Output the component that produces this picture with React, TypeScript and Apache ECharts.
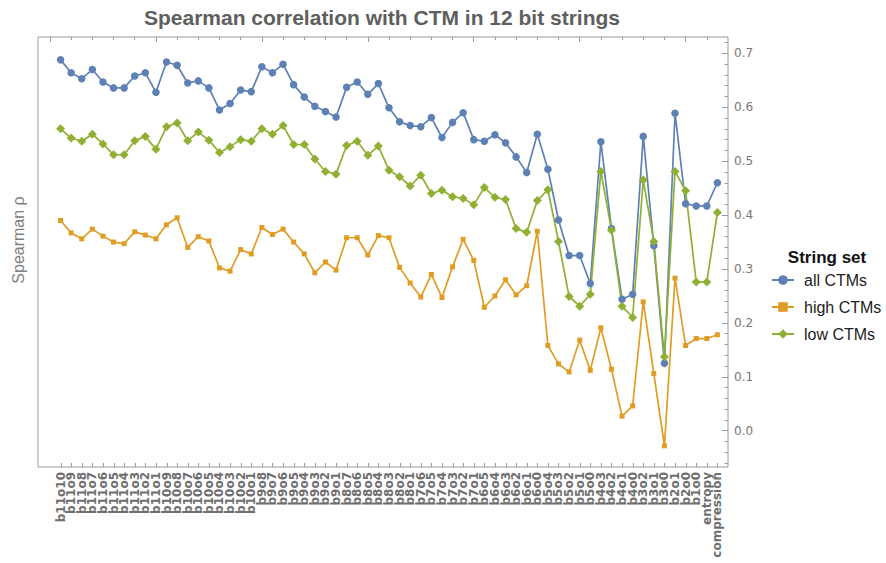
import React, { useEffect, useRef } from "react";
import * as echarts from "echarts";

const categories = [
  "b11o10", "b11o9", "b11o8", "b11o7", "b11o6", "b11o5", "b11o4", "b11o3", "b11o2", "b11o1",
  "b10o9", "b10o8", "b10o7", "b10o6", "b10o5", "b10o4", "b10o3", "b10o2", "b10o1",
  "b9o8", "b9o7", "b9o6", "b9o5", "b9o4", "b9o3", "b9o2", "b9o1",
  "b8o7", "b8o6", "b8o5", "b8o4", "b8o3", "b8o2", "b8o1",
  "b7o6", "b7o5", "b7o4", "b7o3", "b7o2", "b7o1",
  "b6o5", "b6o4", "b6o3", "b6o2", "b6o1", "b6o0",
  "b5o4", "b5o3", "b5o2", "b5o1", "b5o0",
  "b4o3", "b4o2", "b4o1", "b4o0",
  "b3o2", "b3o1", "b3o0",
  "b2o1", "b2o0",
  "b1o0",
  "entropy", "compression",
];

const allCTMs = [
  0.688, 0.664, 0.653, 0.670, 0.647, 0.636, 0.636, 0.658, 0.664, 0.628,
  0.684, 0.678, 0.645, 0.649, 0.636, 0.595, 0.607, 0.632, 0.629,
  0.675, 0.664, 0.680, 0.642, 0.619, 0.602, 0.592, 0.582,
  0.637, 0.647, 0.624, 0.644, 0.599, 0.573, 0.566,
  0.564, 0.581, 0.544, 0.572, 0.590, 0.540,
  0.537, 0.549, 0.534, 0.508, 0.479, 0.550,
  0.485, 0.391, 0.325, 0.325, 0.273,
  0.536, 0.375, 0.244, 0.253,
  0.546, 0.343, 0.125,
  0.589, 0.421,
  0.417,
  0.417, 0.460,
];

const highCTMs = [
  0.390, 0.367, 0.356, 0.374, 0.361, 0.350, 0.347, 0.369, 0.363, 0.356,
  0.382, 0.395, 0.340, 0.360, 0.352, 0.302, 0.296, 0.336, 0.328,
  0.377, 0.364, 0.374, 0.350, 0.328, 0.293, 0.313, 0.298,
  0.358, 0.358, 0.326, 0.362, 0.358, 0.303, 0.274,
  0.248, 0.290, 0.247, 0.304, 0.355, 0.316,
  0.229, 0.250, 0.280, 0.252, 0.269, 0.370,
  0.158, 0.124, 0.109, 0.168, 0.112,
  0.191, 0.114, 0.027, 0.046,
  0.239, 0.106, -0.028,
  0.283, 0.158,
  0.171,
  0.171, 0.178,
];

const lowCTMs = [
  0.560, 0.543, 0.537, 0.550, 0.532, 0.512, 0.512, 0.538, 0.546, 0.522,
  0.564, 0.571, 0.538, 0.554, 0.539, 0.516, 0.527, 0.540, 0.537,
  0.560, 0.550, 0.566, 0.531, 0.531, 0.504, 0.481, 0.476,
  0.529, 0.537, 0.511, 0.528, 0.483, 0.471, 0.454,
  0.474, 0.440, 0.446, 0.434, 0.431, 0.419,
  0.451, 0.433, 0.429, 0.375, 0.368, 0.427,
  0.447, 0.351, 0.249, 0.231, 0.253,
  0.481, 0.372, 0.231, 0.210,
  0.465, 0.351, 0.137,
  0.481, 0.445,
  0.276,
  0.276, 0.405,
];

const yTickValues = [0, 0.1, 0.2, 0.3, 0.4, 0.5, 0.6, 0.7];

const seriesNames = ["all CTMs", "high CTMs", "low CTMs"];
const seriesColors = ["#5e81b5", "#e19c24", "#8fb032"];

const X_MIN = -2.13;
const X_MAX = 63.0;
const Y_MIN = -0.0673;
const Y_MAX = 0.7304;

const FRAME = "#9a9a9a";

export default function App() {
  const ref = useRef<HTMLDivElement>(null);

  useEffect(() => {
    if (!ref.current) return;
    const chart = echarts.init(ref.current, undefined, { renderer: "svg" });

    const xIdx = categories.map((_, i) => i);
    const evenIdx = xIdx.filter((i) => i % 2 === 0);
    const oddIdx = xIdx.filter((i) => i % 2 === 1);
    const topMinor: number[] = [];
    const topMajor: number[] = [];
    for (let k = -1; k <= 61; k += 2) {
      if ((k + 1) % 10 === 0) topMajor.push(k);
      else topMinor.push(k);
    }
    const yMinor: number[] = [];
    for (let k = -3; k <= 36; k++) {
      if (k % 5 !== 0) yMinor.push(k / 50);
    }

    const baseX = {
      type: "value",
      min: X_MIN,
      max: X_MAX,
      axisLine: { show: false, onZero: false },
      splitLine: { show: false },
    };
    const baseY = {
      type: "value",
      min: Y_MIN,
      max: Y_MAX,
      axisLine: { show: false, onZero: false },
      splitLine: { show: false },
    };

    const xLabelStyle = {
      formatter: (v: number) => categories[Math.round(v)] ?? "",
      rotate: 90,
      margin: 5,
      showMinLabel: true,
      showMaxLabel: true,
      hideOverlap: false,
      fontFamily: "DejaVu Sans",
      fontWeight: "bold",
      fontSize: 12,
      color: "#6e6e6e",
    };

    const values = [allCTMs, highCTMs, lowCTMs];
    const symbols = ["circle", "rect", "diamond"];
    const sizes = [7.5, 5, 9];

    const lineSeries = seriesNames.map((name, s) => ({
      name,
      type: "line",
      xAxisIndex: 0,
      yAxisIndex: 0,
      data: values[s].map((v, i) => [i, v]),
      symbol: symbols[s],
      symbolSize: sizes[s],
      showSymbol: true,
      lineStyle: { color: seriesColors[s], width: 1.7 },
      itemStyle: { color: seriesColors[s] },
      emphasis: { disabled: true },
      z: 3,
    }));

    const bottomTicks = {
      name: "bottom ticks",
      type: "custom",
      xAxisIndex: 0,
      yAxisIndex: 0,
      silent: true,
      clip: false,
      data: xIdx.map((i) => [i, Y_MIN]),
      encode: { x: 0, y: 1 },
      renderItem: (_params: any, api: any) => {
        const p = api.coord([api.value(0), Y_MIN]);
        const x = Math.round(p[0]) + 0.5;
        return {
          type: "line",
          shape: { x1: x, y1: p[1], x2: x, y2: p[1] - 4 },
          style: { stroke: FRAME, lineWidth: 1 },
        };
      },
      z: 2,
    };

    const option: any = {
      animation: false,
      grid: {
        left: 38,
        right: 158,
        top: 37,
        bottom: 96,
        show: true,
        borderColor: FRAME,
        borderWidth: 1,
        backgroundColor: "transparent",
      },
      xAxis: [
        {
          ...baseX,
          position: "bottom",
          axisTick: { show: false },
          axisLabel: { ...xLabelStyle, customValues: evenIdx },
        },
        {
          ...baseX,
          position: "bottom",
          axisTick: { show: false },
          axisLabel: { ...xLabelStyle, customValues: oddIdx },
        },
        {
          ...baseX,
          position: "top",
          axisLabel: { show: false },
          axisTick: {
            show: true,
            inside: true,
            length: 3,
            customValues: topMinor,
            lineStyle: { color: FRAME },
          },
        },
        {
          ...baseX,
          position: "top",
          axisLabel: { show: false },
          axisTick: {
            show: true,
            inside: true,
            length: 5,
            customValues: topMajor,
            lineStyle: { color: FRAME },
          },
        },
      ],
      yAxis: [
        {
          ...baseY,
          position: "right",
          axisTick: {
            show: true,
            inside: true,
            length: 6,
            customValues: yTickValues,
            lineStyle: { color: FRAME },
          },
          axisLabel: {
            customValues: yTickValues,
            formatter: (v: number) => v.toFixed(1),
            margin: 6,
            showMinLabel: true,
            showMaxLabel: true,
            fontFamily: "DejaVu Sans",
            fontSize: 12,
            color: "#777777",
          },
        },
        {
          ...baseY,
          position: "right",
          axisLabel: { show: false },
          axisTick: {
            show: true,
            inside: true,
            length: 3.5,
            customValues: yMinor,
            lineStyle: { color: FRAME },
          },
        },
      ],
      legend: {
        orient: "vertical",
        left: 771,
        top: 272,
        padding: 0,
        itemWidth: 22,
        itemHeight: 12,
        itemGap: 11,
        textStyle: {
          fontFamily: "Liberation Sans",
          fontSize: 16,
          lineHeight: 16,
          color: "#222222",
          padding: [0, 0, 0, 5],
        },
        data: seriesNames,
      },
      graphic: [
        {
          type: "text",
          x: 382,
          y: 17,
          style: {
            text: "Spearman correlation with CTM in 12 bit strings",
            fontFamily: "Liberation Sans",
            fontWeight: "bold",
            fontSize: 21,
            fill: "#5e5e5e",
            textAlign: "center",
            textVerticalAlign: "middle",
          },
        },
        {
          type: "text",
          x: 18,
          y: 240,
          rotation: Math.PI / 2,
          style: {
            text: "Spearman ρ",
            fontFamily: "Liberation Sans",
            fontSize: 16,
            fill: "#808080",
            textAlign: "center",
            textVerticalAlign: "middle",
          },
        },
        {
          type: "text",
          x: 827,
          y: 257,
          style: {
            text: "String set",
            fontFamily: "Liberation Sans",
            fontWeight: "bold",
            fontSize: 17,
            fill: "#111111",
            textAlign: "center",
            textVerticalAlign: "middle",
          },
        },
      ],
      series: [bottomTicks, ...lineSeries],
    };

    chart.setOption(option);
    return () => {
      chart.dispose();
    };
  }, []);

  return (
    <div
      ref={ref}
      style={{ position: "fixed", left: 0, top: 0, width: 886, height: 563, background: "#ffffff" }}
    />
  );
}
